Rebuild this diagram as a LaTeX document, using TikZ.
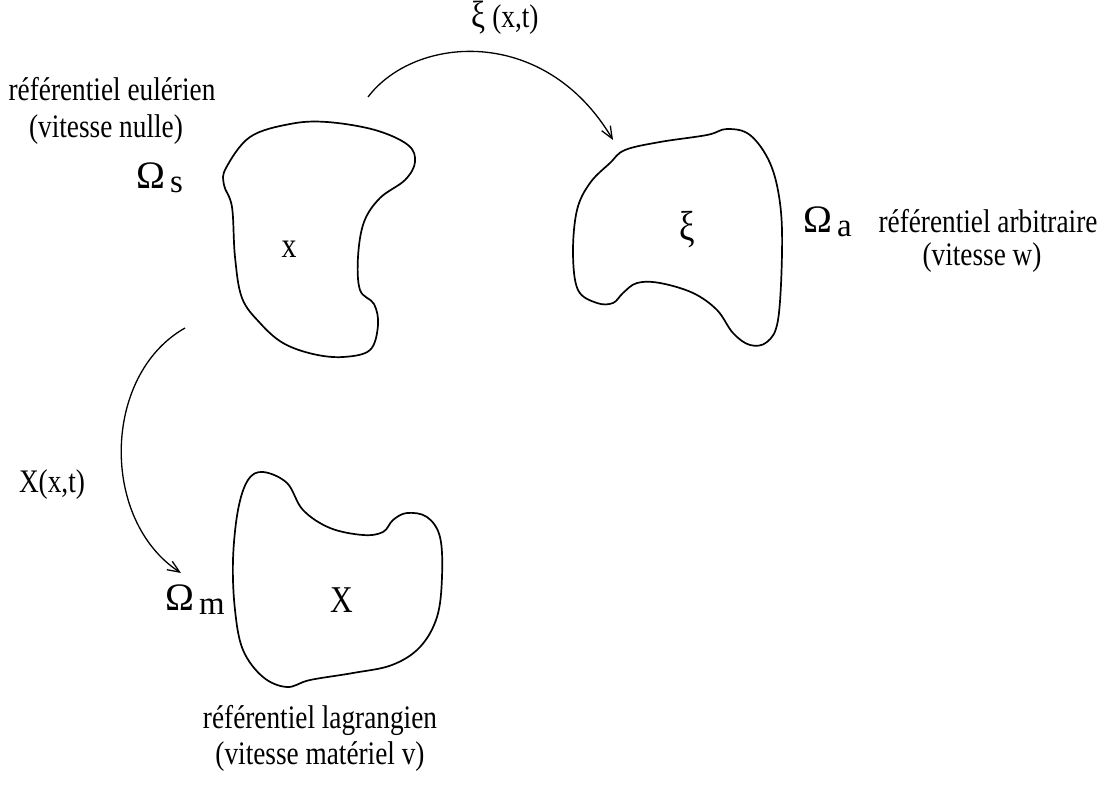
\documentclass[tikz,border=0pt]{standalone}
\usepackage{fontspec}
\setmainfont{Liberation Serif}[FakeStretch=0.83]
\newfontfamily\omegafamily{Liberation Serif}
\usetikzlibrary{arrows.meta}
\newcommand{\lblfont}{\fontsize{33}{38}\selectfont}
\newcommand{\omfont}{\omegafamily\fontsize{39}{39}\selectfont}
\tikzset{
  blob/.style={line width=1.7bp, smooth cycle, tension=0.6},
  maparrow/.style={line width=1.3bp, -{Straight Barb[length=12bp,width=10bp]}},
  lbl/.style={inner sep=0pt, font=\lblfont, anchor=base},
  omega/.style={inner sep=0pt, anchor=base west},
}
\begin{document}
\begin{tikzpicture}[x=1bp,y=-1bp]
\useasboundingbox (0,0) rectangle (1104,791);

% domains
\draw[blob] plot coordinates {(226,168) (250,137) (290,124) (327,122) (375,130) (408,145) (415,162) (405,180) (380,198) (364,222) (358,257) (360,290) (374,304) (378,325) (370,350) (343,357) (313,354) (283,343) (260,323) (242,298) (235,257) (232,207) (224,185)};
\draw[blob] plot coordinates {(625,150) (660,142) (707,135) (727,129) (750,135) (770,163) (780,203) (782,253) (778,320) (767,342) (750,345) (733,333) (717,310) (693,293) (660,283) (637,283) (623,293) (613,303) (597,303) (578,290) (573,253) (577,210) (590,183) (610,163)};
\draw[blob] plot coordinates {(263,472) (287,483) (303,510) (330,528) (363,535) (383,532) (393,520) (407,513) (427,517) (440,537) (442,577) (437,617) (420,647) (392,665) (353,673) (310,680) (287,687) (263,677) (243,650) (235,610) (233,560) (238,510) (248,480)};

% interior labels
\node[lbl, font=\fontsize{36}{36}\selectfont] (xs) at (289,257) {x};
\node[lbl, font=\fontsize{42}{42}\selectfont] (xia) at (687,240) {ξ};
\node[lbl, font=\fontsize{38}{38}\selectfont] (Xm) at (342,612) {X};

% omega labels
\node[omega] (Os) at (136,188) {\omfont Ω\hspace{5bp}\lblfont\raisebox{-4bp}{s}};
\node[omega] (Oa) at (803,232) {\omfont Ω\hspace{5bp}\lblfont\raisebox{-4bp}{a}};
\node[omega] (Om) at (165,610) {\omfont Ω\hspace{5bp}\lblfont\raisebox{-4bp}{m}};

% frame descriptions
\node[lbl] (eul1) at (112,101) {référentiel eulérien};
\node[lbl] (eul2) at (106,137) {(vitesse nulle)};
\node[lbl] (arb1) at (988,232) {référentiel arbitraire};
\node[lbl] (arb2) at (982,265) {(vitesse w)};
\node[lbl] (lag1) at (320,728) {référentiel lagrangien};
\node[lbl] (lag2) at (320,764) {(vitesse matériel v)};

% mappings
\coordinate (t0) at (368,97);
\coordinate (t1) at (613,140);
\draw[maparrow] (t0) .. controls (415,35) and (545,25) .. (t1);
\node[lbl] (xilbl) at (505,28) {{\fontsize{38}{38}\selectfont ξ} (x,t)};

\coordinate (l0) at (185,328);
\coordinate (l1) at (181,573);
\draw[maparrow] (l0) .. controls (102,375) and (100,520) .. (l1);
\node[lbl] (Xlbl) at (52,492) {X(x,t)};
\end{tikzpicture}
\end{document}
